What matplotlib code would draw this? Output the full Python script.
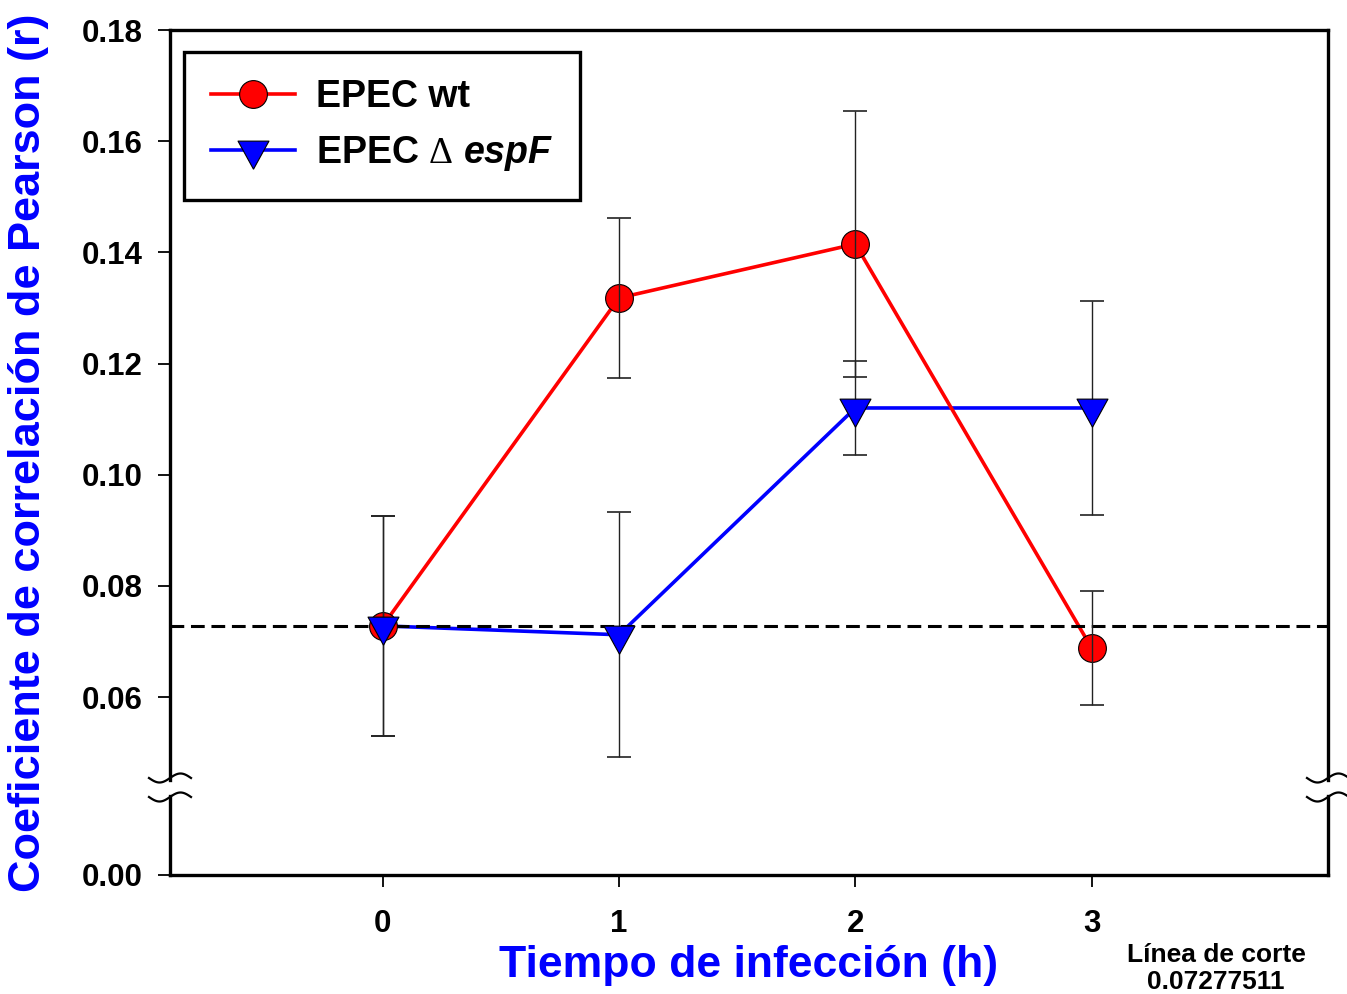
import numpy as np
import matplotlib

matplotlib.use("Agg")
import matplotlib.pyplot as plt  # noqa: E402
from matplotlib.lines import Line2D  # noqa: E402

plt.rcParams["font.family"] = ["Liberation Sans", "DejaVu Sans"]
plt.rcParams["font.weight"] = "bold"
plt.rcParams["mathtext.fontset"] = "custom"
plt.rcParams["mathtext.rm"] = "Liberation Serif:weight=normal"
plt.rcParams["mathtext.it"] = "Liberation Sans:italic:bold"

# data
hours = [0, 1, 2, 3]
wt_mean = [0.0728, 0.1318, 0.1415, 0.0688]
wt_err = [0.0198, 0.0144, 0.0240, 0.0102]
espf_mean = [0.0728, 0.0712, 0.1120, 0.1120]
espf_err = [0.0198, 0.0220, 0.0085, 0.0192]
cutoff = 0.07277511
y_ticks = [0.06, 0.08, 0.10, 0.12, 0.14, 0.16, 0.18]

W, H = 1347, 994
fig = plt.figure(figsize=(W / 100, H / 100), dpi=100)


def fx(px):
    return px / W


def fy(px):
    return 1 - px / H


left, right = fx(170), fx(1328)
ax = fig.add_axes([left, fy(780.4), right - left, fy(30) - fy(780.4)])
axb = fig.add_axes([left, fy(875), right - left, fy(796) - fy(875)], sharex=ax)

RED = "#ff0000"
BLUE = "#0000ff"
# triangle with its centroid on the data point
tri = [(0, -1), (-0.825, 0.5), (0.825, 0.5), (0, -1)]
CIRC_MS = 20
TRI_MS = 27

for a in (ax, axb):
    a.plot(hours, espf_mean, color=BLUE, lw=2.6, zorder=2)
    a.plot(hours, wt_mean, color=RED, lw=2.6, zorder=2.1)
    a.plot(hours, wt_mean, ls="none", marker="o", ms=CIRC_MS, mfc=RED,
           mec="black", mew=0.8, zorder=3)
    a.errorbar(hours, wt_mean, yerr=wt_err, fmt="none", ecolor="#222222",
               elinewidth=1.0, capsize=8.4, capthick=1.2, zorder=4)
    a.errorbar(hours, espf_mean, yerr=espf_err, fmt="none", ecolor="#222222",
               elinewidth=1.0, capsize=8.4, capthick=1.2, zorder=4)
    a.plot(hours, espf_mean, ls="none", marker=tri, ms=TRI_MS, mfc=BLUE,
           mec="black", mew=0.8, zorder=5)
    for s in a.spines.values():
        s.set_linewidth(2.4)
    a.tick_params(direction="out", width=1.3, length=8.5, labelsize=22.5, pad=11)

ax.axhline(cutoff, color="black", lw=2.2, ls=(0, (4.5, 2.2)), zorder=2.5)
axb.axhline(cutoff, color="black", lw=2.2, ls=(0, (4.5, 2.2)), zorder=2.5)

ax.set_xlim(-0.9, 4.0)
ax.set_ylim(0.045, 0.18)
ax.set_yticks(y_ticks)
ax.set_yticklabels([f"{v:.2f}" for v in y_ticks])
ax.spines["bottom"].set_visible(False)
ax.tick_params(axis="x", bottom=False, labelbottom=False)

axb.set_ylim(0, 0.0142)
axb.set_yticks([0.0])
axb.set_yticklabels(["0.00"])
axb.spines["top"].set_visible(False)
axb.set_xticks(hours)
axb.set_xticklabels([str(h) for h in hours])
axb.tick_params(axis="x", pad=16)

for a in (ax, axb):
    for lab in a.get_xticklabels() + a.get_yticklabels():
        lab.set_fontweight("bold")

# axis break marks
t = np.linspace(-1, 1, 60)
for cx in (170, 1328):
    for cy in (778, 797):
        fig.add_artist(Line2D(fx(cx + 21 * t), fy(cy) + 4.5 / H * np.sin(np.pi * t),
                              color="black", lw=1.6, transform=fig.transFigure))

fig.text(fx(29), (fy(30) + fy(875)) / 2, "Coeficiente de correlación de Pearson (r)",
         rotation=90, ha="center", va="center", fontsize=32.5, color=BLUE,
         fontweight="bold")
fig.text((left + right) / 2, fy(966), "Tiempo de infección (h)", ha="center",
         va="center", fontsize=32, color=BLUE, fontweight="bold")
fig.text(fx(1216), fy(955), "Línea de corte", ha="center", va="center",
         fontsize=19, fontweight="bold")
fig.text(fx(1216), fy(982), "0.07277511", ha="center", va="center",
         fontsize=19, fontweight="bold")

handles = [
    Line2D([], [], color=RED, lw=2.6, marker="o", ms=CIRC_MS, mfc=RED, mec="black", mew=0.8),
    Line2D([], [], color=BLUE, lw=2.6, marker=tri, ms=TRI_MS, mfc=BLUE, mec="black", mew=0.8),
]
labels = ["EPEC wt", r"EPEC $\mathrm{\Delta}$ $espF$"]
leg = ax.legend(handles, labels, loc="upper left",
                bbox_to_anchor=(fx(184 - 170) / (right - left), 1 - (52 - 30) / 750.4),
                prop={"size": 27, "weight": "bold"}, frameon=True, fancybox=False,
                edgecolor="black", handlelength=2.24, handletextpad=0.55,
                borderpad=0.72, labelspacing=0.5, borderaxespad=0, numpoints=1)
leg.get_frame().set_linewidth(2.4)
leg.get_frame().set_alpha(1)

fig.savefig("out.png", dpi=100)
